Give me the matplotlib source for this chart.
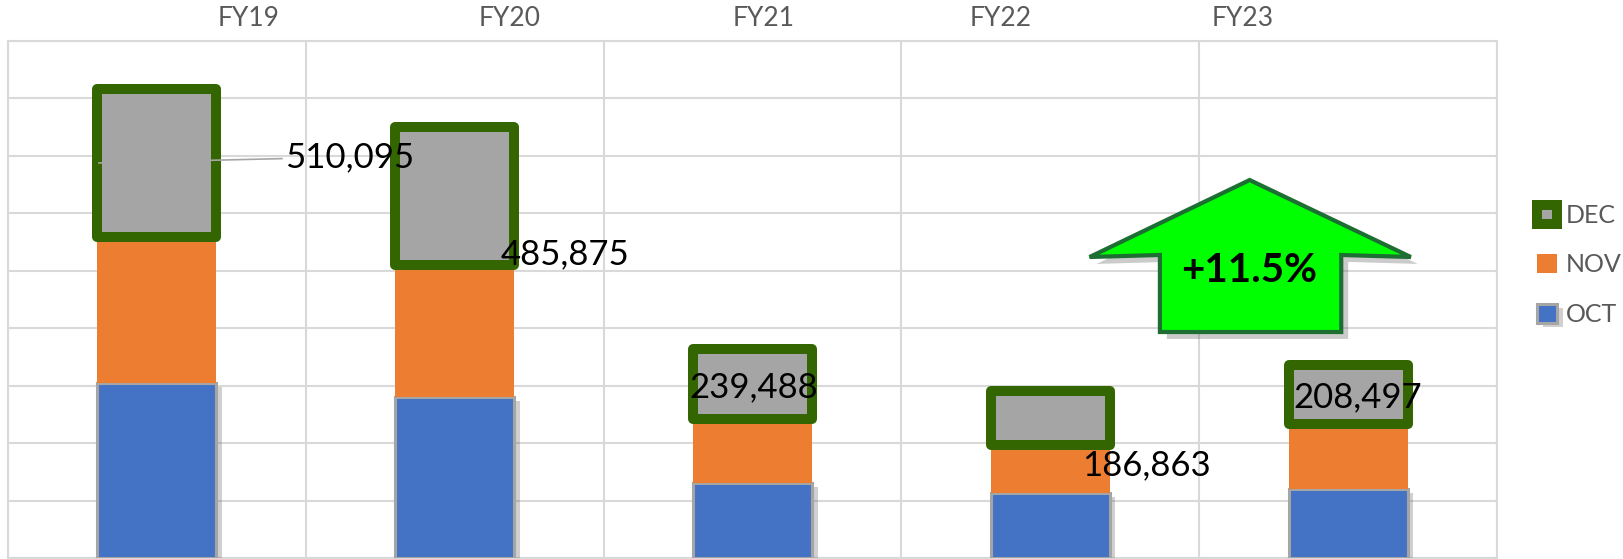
import matplotlib
matplotlib.use("Agg")
import matplotlib.pyplot as plt
import matplotlib.patheffects as pe
from matplotlib.patches import Polygon
from matplotlib.ticker import MultipleLocator

plt.rcParams['font.family'] = ['Lato', 'DejaVu Sans']

# datos
categorias = ["FY19", "FY20", "FY21", "FY22", "FY23"]
oct_vals = [194000, 179000, 83000, 72000, 77000]
nov_vals = [162000, 146000, 71000, 53000, 72000]
dec_vals = [164000, 153000, 78000, 60000, 65000]
etiquetas = ["510,095", "485,875", "239,488", "186,863", "208,497"]
cambio = "+11.5%"

# posiciones de las etiquetas (coordenadas de datos)
pos_cat = [0.307, 1.185, 2.038, 2.834, 3.645]
pos_etq = [(0.43, 445000), (1.155, 337400), (1.788, 189800), (3.107, 103200), (3.815, 178700)]

fig = plt.figure(figsize=(16.24, 5.59), dpi=100)
ax = fig.add_axes([8 / 1624, 1 / 559, 1489 / 1624, 517 / 559])

x = list(range(len(categorias)))
ancho = 0.40
base_dec = [o + n for o, n in zip(oct_vals, nov_vals)]

# barras apiladas
b_oct = ax.bar(x, oct_vals, ancho, color="#4472C4", edgecolor="#A5A5A5", linewidth=2.2,
               zorder=3, label="OCT")
for b in b_oct:
    b.set_path_effects([pe.SimplePatchShadow(offset=(4, -3), shadow_rgbFace="#666666", alpha=0.3),
                        pe.Normal()])
b_nov = ax.bar(x, nov_vals, ancho, bottom=oct_vals, color="#ED7D31", linewidth=0,
               zorder=3, label="NOV")
b_dec = ax.bar(x, dec_vals, ancho, bottom=base_dec, color="#A5A5A5", edgecolor="#336600",
               linewidth=7.2, joinstyle="round", zorder=4, label="DEC")

# etiquetas de totales
for i, (txt, (tx, ty)) in enumerate(zip(etiquetas, pos_etq)):
    if i == 0:
        ax.annotate(txt, xy=(-0.195, 438400), xytext=(tx, ty), fontsize=25, color="black",
                    ha="left", va="center", zorder=6,
                    arrowprops=dict(arrowstyle="-", color="#A6A6A6", lw=1.2,
                                    shrinkA=0, shrinkB=0))
    else:
        ax.text(tx, ty, txt, fontsize=25, color="black", ha="left", va="center", zorder=6)

# ejes y cuadricula
ax.set_xlim(-0.5, 4.5)
ax.set_ylim(0, 9 * 63750)
ax.yaxis.set_major_locator(MultipleLocator(63750))
ax.set_xticks([i - 0.5 for i in range(len(categorias) + 1)], minor=True)
ax.set_xticks(pos_cat)
ax.set_xticklabels(categorias, fontsize=19, color="#595959")
ax.xaxis.tick_top()
ax.tick_params(axis="x", which="both", length=0, pad=7)
ax.tick_params(axis="y", length=0, labelleft=False)
ax.grid(axis="y", color="#D9D9D9", linewidth=1.5)
ax.grid(axis="x", which="minor", color="#D9D9D9", linewidth=1.5)
ax.set_axisbelow(True)
for s in ax.spines.values():
    s.set_color("#D9D9D9")
    s.set_linewidth(1.5)

# flecha verde
flecha = Polygon([(0.8339, 0.7311), (0.9421, 0.5822), (0.8954, 0.5861), (0.8954, 0.4371),
                  (0.7736, 0.4371), (0.7736, 0.5861), (0.7264, 0.5822)],
                 closed=True, transform=ax.transAxes, facecolor="#00FF00",
                 edgecolor="#1C6E32", linewidth=3, zorder=5)
flecha.set_path_effects([pe.SimplePatchShadow(offset=(5, -5), shadow_rgbFace="#555555", alpha=0.3),
                         pe.Normal()])
ax.add_patch(flecha)
ax.text(0.8335, 0.557, cambio, transform=ax.transAxes, fontsize=29, fontweight="bold",
        ha="center", va="center", color="black", zorder=6)

# leyenda
ax.legend(handles=[b_dec, b_nov, b_oct], labels=["DEC", "NOV", "OCT"],
          loc="center left", bbox_to_anchor=(1537 / 1624, 1 - 265 / 559),
          bbox_transform=fig.transFigure, frameon=False, fontsize=18,
          labelcolor="#595959", handlelength=0.8, handleheight=0.8,
          handletextpad=0.35, labelspacing=1.05, borderpad=0, borderaxespad=0)

fig.savefig("out.png", dpi=100, facecolor="white")
